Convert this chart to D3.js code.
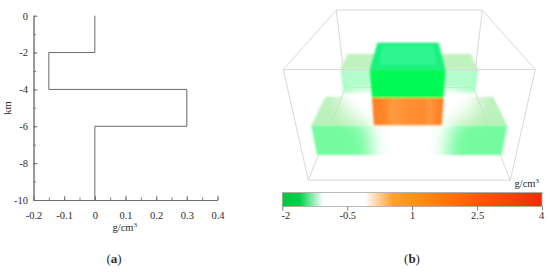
<!DOCTYPE html>
<html>
<head>
<meta charset="utf-8">
<script src="https://cdn.jsdelivr.net/npm/d3@7"></script>
<style>
    html, body { margin: 0; padding: 0; background: #fff; }
    svg { display: block; }
    text { font-family: "Liberation Serif", serif; fill: #2b2b2b; }
    .axis text { font-family: "Liberation Serif", serif; font-size: 10.5px; fill: #2b2b2b; }
    .axis path, .axis line { stroke: #6e6e6e; stroke-width: 0.9; }
</style>
</head>
<body>
<div id="vis"></div>
<script>
// panel (a): density profile
var profile_depth = [0, -2, -2, -4, -4, -6, -6, -10];
var profile_density = [0, 0, -0.15, -0.15, 0.3, 0.3, 0, 0];
var density_ticks = [-0.2, -0.1, 0, 0.1, 0.2, 0.3, 0.4];
var density_minor = [-0.2, -0.15, -0.1, -0.05, 0, 0.05, 0.1, 0.15, 0.2, 0.25, 0.3, 0.35, 0.4];
var depth_ticks = [0, -2, -4, -6, -8, -10];
var depth_minor = [0, -1, -2, -3, -4, -5, -6, -7, -8, -9, -10];

// panel (b): colour bar
var bar_ticks = [-2, -0.5, 1, 2.5, 4];
var bar_values = [-2, -1.6, -1.06, -0.1, 0.55, 1, 2.5, 4];
var bar_colours = ['#00c63e', '#00d04a', '#ffffff', '#ffffff', '#ff9f33', '#ff941c', '#ff5a00', '#e62f06'];

// panel (b): blocks in model units (x -1..1, d front..back 0..1, z top..bottom 0..1)
var block_x0 = [-0.865, 0.1, -0.85, 0.2];
var block_x1 = [-0.1, 0.865, -0.2, 0.85];
var block_d0 = [0.0, 0.0, 0.606, 0.606];
var block_d1 = [0.26, 0.26, 0.868, 0.868];
var block_z0 = [0.45, 0.45, 0.45, 0.45];
var block_z1 = [0.73, 0.73, 0.73, 0.73];

var core_cx = -0.016;
var core_x = 0.373;
var core_d = [0.27, 0.669];
var core_z = [0.2, 0.47, 0.76];

// where the low density layer fades to nothing, same units
var fade_outline = [[0.9, 0.7, 0.45], [0.66, 0.14, 0.45], [0.36, 0, 0.45], [0.34, 0, 1.1],
    [-0.34, 0, 1.1], [-0.36, 0, 0.45], [-0.66, 0.14, 0.45], [-0.9, 0.7, 0.45]];

var width = 550;
var height = 272;

var svg = d3.select('#vis')
    .append('svg')
    .attr('width', width)
    .attr('height', height);

var defs = svg.append('defs');

function plain(d) {
    return String(d);
}

// ---- panel (a)
var x_scale = d3.scaleLinear().domain([-0.2, 0.4]).range([33.5, 217.5]);
var y_scale = d3.scaleLinear().domain([0, -10]).range([15.7, 200]);

var a = svg.append('g');

a.append('g')
    .attr('class', 'axis')
    .attr('transform', 'translate(0,200)')
    .call(d3.axisBottom(x_scale).tickValues(density_minor).tickSize(-2.5).tickSizeOuter(0).tickFormat(''));

a.append('g')
    .attr('class', 'axis')
    .attr('transform', 'translate(0,200)')
    .call(d3.axisBottom(x_scale).tickValues(density_ticks).tickSize(-4).tickSizeOuter(0).tickPadding(12).tickFormat(plain));

a.append('g')
    .attr('class', 'axis')
    .attr('transform', 'translate(33.5,0)')
    .call(d3.axisLeft(y_scale).tickValues(depth_minor).tickSize(-2.5).tickSizeOuter(0).tickFormat(''));

a.append('g')
    .attr('class', 'axis')
    .attr('transform', 'translate(33.5,0)')
    .call(d3.axisLeft(y_scale).tickValues(depth_ticks).tickSize(-4).tickSizeOuter(0).tickPadding(5.5).tickFormat(plain));

var profile_line = d3.line()
    .x(function (d, i) { return x_scale(profile_density[i]); })
    .y(function (d) { return y_scale(d); });

a.append('path')
    .datum(profile_depth)
    .attr('d', profile_line)
    .attr('fill', 'none')
    .attr('stroke', '#6a6a6a')
    .attr('stroke-width', 1);

a.append('text')
    .attr('transform', 'translate(11,108) rotate(-90)')
    .attr('text-anchor', 'middle')
    .attr('font-size', 10.5)
    .text('km');

function unit_label(g, x, y) {
    var t = g.append('text').attr('x', x).attr('y', y).attr('font-size', 10.5);
    t.append('tspan').text('g/cm');
    t.append('tspan').attr('font-size', 7).attr('dy', -4).text('3');
}
unit_label(a, 112.5, 231);

function panel_label(x, y, letter) {
    var t = svg.append('text').attr('x', x).attr('y', y).attr('text-anchor', 'middle').attr('font-size', 13);
    t.append('tspan').text('(');
    t.append('tspan').attr('font-weight', 'bold').text(letter);
    t.append('tspan').text(')');
}
panel_label(114, 263, 'a');
panel_label(412, 263, 'b');

// ---- panel (b): perspective of the box
function project(p) {
    var w = 1 + 0.726 * p[1] + 0.2475 * p[2];
    return [409.3 + 126 * p[0] / w, (69.5 - 52 * p[1] + 155.3 * p[2]) / w];
}

var poly = d3.line().curve(d3.curveLinearClosed);

function face(x0, x1, d0, d1, z0, z1) {
    if (z0 === z1) {
        return poly([[x0, d0, z0], [x1, d0, z0], [x1, d1, z0], [x0, d1, z0]].map(project));
    }
    return poly([[x0, d0, z0], [x1, d0, z0], [x1, d0, z1], [x0, d0, z1]].map(project));
}

function blur(id, amount) {
    defs.append('filter').attr('id', id)
        .attr('filterUnits', 'userSpaceOnUse')
        .attr('x', 270).attr('y', 0).attr('width', 280).attr('height', 200)
        .append('feGaussianBlur').attr('stdDeviation', amount);
}
blur('soft', 0.9);
blur('front_blur', 9);
blur('back_blur', 4);

function make_mask(id) {
    var m = defs.append('mask').attr('id', id)
        .attr('maskUnits', 'userSpaceOnUse')
        .attr('x', 270).attr('y', 0).attr('width', 280).attr('height', 200);
    m.append('rect').attr('x', 270).attr('y', 0).attr('width', 280).attr('height', 200).attr('fill', '#fff');
    return m;
}

make_mask('front_hole').append('path')
    .attr('d', poly(fade_outline.map(project)))
    .attr('fill', '#000')
    .attr('filter', 'url(#front_blur)');

var back_centre = project([0, 0.43, 0.73]);
make_mask('back_hole').append('ellipse')
    .attr('cx', back_centre[0])
    .attr('cy', back_centre[1] + 6)
    .attr('rx', 80)
    .attr('ry', 28)
    .attr('fill', '#000')
    .attr('filter', 'url(#back_blur)');

var box_edges = [
    [[-1, 1, 0], [1, 1, 0]], [[-1, 1, 1], [1, 1, 1]],
    [[-1, 1, 0], [-1, 1, 1]], [[1, 1, 0], [1, 1, 1]],
    [[-1, 0, 0], [-1, 1, 0]], [[1, 0, 0], [1, 1, 0]],
    [[-1, 0, 1], [-1, 1, 1]], [[1, 0, 1], [1, 1, 1]],
    [[-1, 0, 0], [-1, 0, 1]], [[1, 0, 0], [1, 0, 1]],
    [[-1, 0, 0], [1, 0, 0]], [[-1, 0, 1], [1, 0, 1]]
];

var b = svg.append('g');

b.selectAll('.edge')
    .data(box_edges)
    .enter()
    .append('path')
    .attr('class', 'edge')
    .attr('d', function (d) { return d3.line()(d.map(project)); })
    .attr('fill', 'none')
    .attr('stroke', '#d9d9d9')
    .attr('stroke-width', 1);

var back_layer = b.append('g').attr('mask', 'url(#back_hole)').append('g').attr('filter', 'url(#soft)');
var front_layer = b.append('g').attr('mask', 'url(#front_hole)').append('g').attr('filter', 'url(#soft)');

block_x0.forEach(function (x0, i) {
    var x1 = block_x1[i];
    var back = i > 1;
    var layer = back ? back_layer : front_layer;
    // top of the block
    layer.append('path')
        .attr('d', face(x0, x1, block_d0[i], block_d1[i], block_z0[i], block_z0[i]))
        .attr('fill', '#b4f0b2')
        .attr('fill-opacity', back ? 0.85 : 0.9);
    // front of the block
    layer.append('path')
        .attr('d', face(x0, x1, block_d0[i], block_d1[i], block_z0[i], block_z1[i]))
        .attr('fill', back ? '#a6fbc2' : '#74fb9f')
        .attr('fill-opacity', back ? 0.85 : 1);
});

// front top edge runs over the pale blocks but not over the core
b.append('path')
    .attr('d', d3.line()([[-1, 0, 0], [1, 0, 0]].map(project)))
    .attr('stroke', '#d9d9d9').attr('fill', 'none');

var core = b.append('g').attr('filter', 'url(#soft)');

core.append('path')
    .attr('d', face(core_cx - core_x, core_cx + core_x, core_d[0], core_d[1], core_z[0], core_z[0]))
    .attr('fill', '#12f27e');
core.append('path')
    .attr('d', face(core_cx - core_x * 0.8, core_cx + core_x * 0.8, core_d[0] + 0.06, core_d[1] - 0.05, core_z[0], core_z[0]))
    .attr('fill', '#2df590');
core.append('path')
    .attr('d', face(core_cx - core_x, core_cx + core_x, core_d[0], core_d[1], core_z[0], core_z[1]))
    .attr('fill', '#00fa52');

defs.append('linearGradient').attr('id', 'orange_face')
    .selectAll('stop')
    .data([[0, '#ff7f22'], [0.2, '#ff8a2c'], [0.28, '#ff9a44'], [0.5, '#ff8f34'], [0.72, '#ff8a2e'], [0.8, '#ff9640'], [1, '#ff7a1e']])
    .enter()
    .append('stop')
    .attr('offset', function (d) { return d[0]; })
    .attr('stop-color', function (d) { return d[1]; });

core.append('path')
    .attr('d', face(core_cx - core_x, core_cx + core_x, core_d[0], core_d[1], core_z[1], core_z[2]))
    .attr('fill', 'url(#orange_face)');

// ---- panel (b): colour bar
var bar_scale = d3.scaleLinear().domain([-2, 4]).range([282.3, 542]);
var bar_y = 192.5;
var bar_h = 14;

var grad = defs.append('linearGradient').attr('id', 'bar_gradient');
grad.selectAll('stop')
    .data(bar_values)
    .enter()
    .append('stop')
    .attr('offset', function (d) { return (d + 2) / 6; })
    .attr('stop-color', function (d, i) { return bar_colours[i]; });

svg.append('rect')
    .attr('x', bar_scale(-2))
    .attr('y', bar_y)
    .attr('width', bar_scale(4) - bar_scale(-2))
    .attr('height', bar_h)
    .attr('fill', 'url(#bar_gradient)')
    .attr('stroke', '#a8a8a8')
    .attr('stroke-width', 0.8);

var bar_axis = svg.append('g')
    .attr('class', 'axis')
    .attr('transform', 'translate(0,' + (bar_y + bar_h) + ')')
    .call(d3.axisBottom(bar_scale).tickValues(bar_ticks).tickSize(4).tickSizeOuter(0).tickPadding(1).tickFormat(plain));
bar_axis.select('.domain').remove();
bar_axis.selectAll('text')
    .attr('dx', function (d) { return d === -2 ? 3 : d === 4 ? -1 : 0; });

unit_label(svg, 514.5, 187);
</script>
</body>
</html>
